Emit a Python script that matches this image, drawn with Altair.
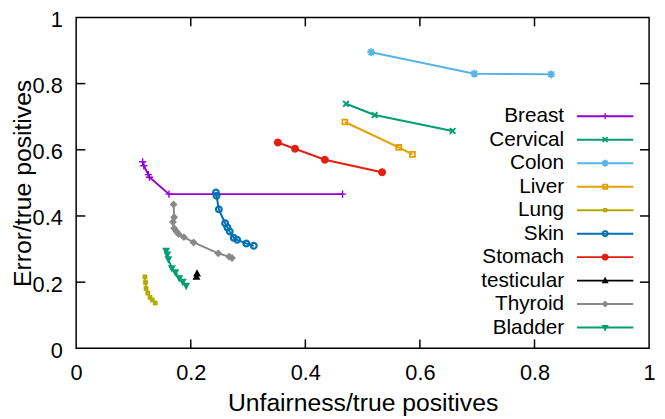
import math
import altair as alt
import pandas as pd

# ---------------- data ----------------
cancers = ["Breast", "Cervical", "Colon", "Liver", "Lung", "Skin",
           "Stomach", "testicular", "Thyroid", "Bladder"]

breast_x = [0.116, 0.118, 0.126, 0.128, 0.162, 0.465]
breast_y = [0.564, 0.552, 0.525, 0.517, 0.466, 0.466]
cervical_x = [0.471, 0.521, 0.657]
cervical_y = [0.739, 0.705, 0.657]
colon_x = [0.515, 0.695, 0.829]
colon_y = [0.895, 0.830, 0.828]
liver_x = [0.469, 0.563, 0.587]
liver_y = [0.684, 0.607, 0.586]
lung_x = [0.120, 0.121, 0.122, 0.125, 0.129, 0.133, 0.138]
lung_y = [0.216, 0.199, 0.181, 0.167, 0.154, 0.146, 0.137]
skin_x = [0.244, 0.245, 0.249, 0.260, 0.264, 0.268, 0.275, 0.281, 0.297, 0.310]
skin_y = [0.471, 0.461, 0.420, 0.378, 0.365, 0.353, 0.334, 0.328, 0.317, 0.310]
stomach_x = [0.352, 0.382, 0.434, 0.534]
stomach_y = [0.622, 0.603, 0.570, 0.532]
testicular_x = [0.210, 0.211]
testicular_y = [0.216, 0.226]
thyroid_x = [0.170, 0.171, 0.169, 0.171, 0.175, 0.179, 0.188, 0.205, 0.248, 0.267, 0.272]
thyroid_y = [0.435, 0.396, 0.382, 0.363, 0.353, 0.345, 0.336, 0.320, 0.287, 0.277, 0.273]
bladder_x = [0.157, 0.159, 0.161, 0.167, 0.173, 0.180, 0.186, 0.192]
bladder_y = [0.295, 0.284, 0.269, 0.242, 0.230, 0.212, 0.201, 0.189]

colors = ["#9400d3", "#009e73", "#56b4e9", "#e69f00", "#b5aa00",
          "#0072b2", "#e51e10", "#000000", "#888888", "#009e73"]

tick_values = [0.2, 0.4, 0.6, 0.8]
axis_values = [0, 0.2, 0.4, 0.6, 0.8, 1]

series = {
    "Breast": (breast_x, breast_y), "Cervical": (cervical_x, cervical_y),
    "Colon": (colon_x, colon_y), "Liver": (liver_x, liver_y),
    "Lung": (lung_x, lung_y), "Skin": (skin_x, skin_y),
    "Stomach": (stomach_x, stomach_y), "testicular": (testicular_x, testicular_y),
    "Thyroid": (thyroid_x, thyroid_y), "Bladder": (bladder_x, bladder_y),
}
rows = []
for name in cancers:
    xs, ys = series[name]
    for i, (x, y) in enumerate(zip(xs, ys)):
        rows.append({"cancer": name, "x": x, "y": y, "i": i})
df = pd.DataFrame(rows)
ticks_df = pd.DataFrame({"t": tick_values})
legend_df = pd.DataFrame({"cancer": cancers})

# ---------------- marker shapes (unit paths) ----------------
def fmt(p):
    return f"{p[0]:.3f},{p[1]:.3f}"

def poly(pts):
    return "M" + " L".join(fmt(p) for p in pts) + " Z"

def tf(pts, s, rot=0.0):
    c, sn = math.cos(rot), math.sin(rot)
    return [((x * c - y * sn) * s, (x * sn + y * c) * s) for x, y in pts]

def plus_pts(w):
    return [(-1, -w), (-w, -w), (-w, -1), (w, -1), (w, -w), (1, -w),
            (1, w), (w, w), (w, 1), (-w, 1), (-w, w), (-1, w)]

def ngon(r, n=20):
    return [(r * math.cos(2 * math.pi * k / n), r * math.sin(2 * math.pi * k / n)) for k in range(n)]

def sq(r):
    return [(-r, -r), (r, -r), (r, r), (-r, r)]

def marker(name):
    if name == "Breast":
        return [tf(plus_pts(0.2), 0.9)]
    if name == "Cervical":
        return [tf(plus_pts(0.24), 1.0, math.pi / 4)]
    if name == "Colon":
        return [tf(plus_pts(0.24), 1.0), tf(plus_pts(0.24), 1.0, math.pi / 4)]
    if name == "Liver":
        return [sq(0.85), list(reversed(sq(0.4)))]
    if name == "Lung":
        return [sq(0.6)]
    if name == "Skin":
        return [ngon(1.0), list(reversed(ngon(0.45)))]
    if name == "Stomach":
        return [ngon(1.0)]
    if name == "testicular":
        return [[(0, -1.1), (1.0, 0.75), (-1.0, 0.75)]]
    if name == "Thyroid":
        return [[(0, -1.0), (1.0, 0), (0, 1.0), (-1.0, 0)]]
    if name == "Bladder":
        return [[(0, 1.1), (-1.0, -0.75), (1.0, -0.75)]]

point_shapes = [" ".join(poly(p) for p in marker(n)) for n in cancers]

FONT = "Liberation Sans"

xscale = alt.Scale(domain=[0, 1], nice=False)
yscale = alt.Scale(domain=[0, 1], nice=False)
color_scale = alt.Scale(domain=cancers, range=colors)
shape_scale = alt.Scale(domain=cancers, range=point_shapes)

xaxis = alt.Axis(title="Unfairness/true positives", values=axis_values, format="~g",
                 grid=False, ticks=False, tickSize=0, domain=False,
                 labelFontSize=22, labelPadding=15, labelColor="black", labelFont=FONT,
                 titleFontSize=25, titleFont=FONT, titleFontWeight="normal",
                 titleColor="black", titleY=43, titleBaseline="top", labelFlush=False)
yaxis = alt.Axis(title="Error/true positives", values=axis_values, format="~g",
                 grid=False, ticks=False, tickSize=0, domain=False,
                 labelFontSize=22, labelPadding=14, labelOffset=2,
                 labelColor="black", labelFont=FONT,
                 titleFontSize=25, titleFont=FONT, titleFontWeight="normal",
                 titleColor="black", titleX=-41, titleBaseline="bottom", labelFlush=False)
# an axis that draws nothing, for the key's own row scale
hidden_axis = alt.Axis(orient="right", labels=False, ticks=False, domain=False,
                       grid=False, title=None)

base = alt.Chart(df)

lines = base.mark_line(strokeWidth=2).encode(
    x=alt.X("x:Q", scale=xscale, axis=xaxis),
    y=alt.Y("y:Q", scale=yscale, axis=yaxis),
    color=alt.Color("cancer:N", scale=color_scale, legend=None),
    detail="cancer:N",
    order="i:Q",
)

points = base.mark_point(filled=True, opacity=1, size=64).encode(
    x=alt.X("x:Q", scale=xscale),
    y=alt.Y("y:Q", scale=yscale),
    color=alt.Color("cancer:N", scale=color_scale, legend=None),
    shape=alt.Shape("cancer:N", scale=shape_scale, legend=None),
)

tk = alt.Chart(ticks_df).mark_rule(color="black", strokeWidth=1.5)
tick_bottom = tk.encode(x=alt.X("t:Q", scale=xscale), y=alt.datum(0), y2=alt.datum(0.027))
tick_top = tk.encode(x=alt.X("t:Q", scale=xscale), y=alt.datum(1), y2=alt.datum(0.973))
tick_left = tk.encode(y=alt.Y("t:Q", scale=yscale), x=alt.datum(0), x2=alt.datum(0.016))
tick_right = tk.encode(y=alt.Y("t:Q", scale=yscale), x=alt.datum(1), x2=alt.datum(0.984))

data_layers = alt.layer(tick_bottom, tick_top, tick_left, tick_right, lines, points)

# ---------------- gnuplot-style key: label, then line sample with marker ----------------
key_scale = alt.Scale(type="point", domain=cancers, range=[100, 314], padding=0)
lb = alt.Chart(legend_df)
key_lines = lb.mark_rule(strokeWidth=2).encode(
    y=alt.Y("cancer:N", scale=key_scale, axis=hidden_axis),
    x=alt.value(507), x2=alt.value(564),
    color=alt.Color("cancer:N", scale=color_scale, legend=None),
)
key_marks = lb.mark_point(filled=True, opacity=1, size=50).encode(
    y=alt.Y("cancer:N", scale=key_scale),
    x=alt.value(535.5),
    color=alt.Color("cancer:N", scale=color_scale, legend=None),
    shape=alt.Shape("cancer:N", scale=shape_scale, legend=None),
)
key_text = lb.mark_text(align="right", baseline="middle", fontSize=21, font=FONT,
                        color="black").encode(
    y=alt.Y("cancer:N", scale=key_scale),
    x=alt.value(494), text="cancer:N",
)
key_layers = alt.layer(key_lines, key_marks, key_text)

chart = alt.layer(data_layers, key_layers).resolve_scale(
    y="independent"
).properties(
    width=580, height=335,
    autosize=alt.AutoSizeParams(type="none"),
    padding={"left": 69, "top": 7, "right": 8, "bottom": 69},
).configure_view(stroke="black", strokeWidth=1.5)

chart.save("out.html", embed_options={"renderer": "svg", "actions": False})
